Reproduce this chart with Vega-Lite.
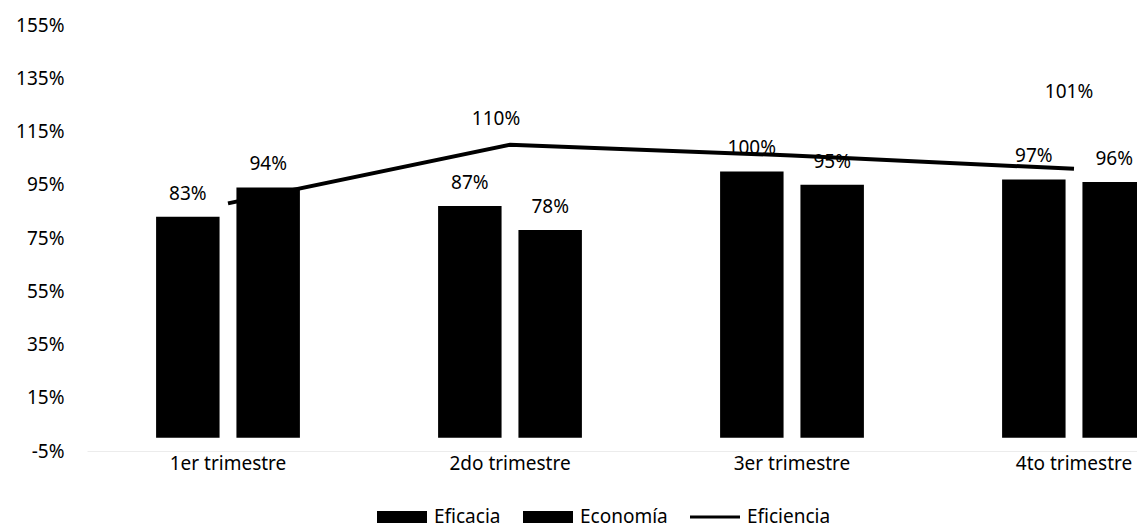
{
  "$schema": "https://vega.github.io/schema/vega-lite/v6.json",
  "autosize": {"type": "none"},
  "padding": {"left": 87, "top": 25, "right": 0, "bottom": 79},
  "width": 1128,
  "height": 426,
  "background": "white",
  "config": {
    "view": {"stroke": null},
    "font": "Noto Sans",
    "text": {"font": "Noto Sans"}
  },
  "datasets": {
    "barras": [
      {"Trimestre": "1er trimestre", "Serie": "Eficacia", "Valor": 0.83},
      {"Trimestre": "1er trimestre", "Serie": "Economía", "Valor": 0.94},
      {"Trimestre": "2do trimestre", "Serie": "Eficacia", "Valor": 0.87},
      {"Trimestre": "2do trimestre", "Serie": "Economía", "Valor": 0.78},
      {"Trimestre": "3er trimestre", "Serie": "Eficacia", "Valor": 1.00},
      {"Trimestre": "3er trimestre", "Serie": "Economía", "Valor": 0.95},
      {"Trimestre": "4to trimestre", "Serie": "Eficacia", "Valor": 0.97},
      {"Trimestre": "4to trimestre", "Serie": "Economía", "Valor": 0.96}
    ],
    "linea": [
      {"Trimestre": "1er trimestre", "Serie": "Eficiencia", "Valor": 0.88},
      {"Trimestre": "2do trimestre", "Serie": "Eficiencia", "Valor": 1.10},
      {"Trimestre": "3er trimestre", "Serie": "Eficiencia", "Valor": 1.06},
      {"Trimestre": "4to trimestre", "Serie": "Eficiencia", "Valor": 1.01}
    ]
  },
  "encoding": {
    "x": {
      "field": "Trimestre",
      "type": "nominal",
      "sort": ["1er trimestre", "2do trimestre", "3er trimestre", "4to trimestre"],
      "scale": {"paddingInner": 0.49, "paddingOuter": 0.245},
      "axis": {
        "title": null,
        "labelAngle": 0,
        "ticks": false,
        "domain": true,
        "domainColor": "#ececec",
        "labelFont": "Noto Sans",
        "labelFontSize": 19,
        "labelColor": "#000000",
        "labelPadding": 3
      }
    },
    "y": {
      "field": "Valor",
      "type": "quantitative",
      "scale": {"domain": [-0.05, 1.55], "nice": false, "zero": false},
      "axis": {
        "title": null,
        "values": [-0.05, 0.15, 0.35, 0.55, 0.75, 0.95, 1.15, 1.35, 1.55],
        "format": ".0%",
        "labelExpr": "replace(datum.label, '\u2212', '-')",
        "grid": false,
        "domain": false,
        "ticks": false,
        "labelFont": "Noto Sans",
        "labelFontSize": 19,
        "labelColor": "#000000",
        "labelPadding": 23
      }
    }
  },
  "layer": [
    {
      "data": {"name": "barras"},
      "mark": {"type": "bar", "color": "#000000"},
      "encoding": {
        "xOffset": {
          "field": "Serie",
          "sort": ["Eficacia", "Economía"],
          "scale": {"paddingInner": 0.21, "paddingOuter": 0}
        },
        "y2": {"datum": 0},
        "color": {
          "field": "Serie",
          "type": "nominal",
          "scale": {
            "domain": ["Eficacia", "Economía", "Eficiencia"],
            "range": ["#000000", "#000000", "#000000"]
          },
          "legend": {
            "title": null,
            "orient": "none",
            "direction": "horizontal",
            "legendX": 290,
            "legendY": 467,
            "symbolSize": 2500,
            "symbolStrokeWidth": 0,
            "labelFont": "Noto Sans",
            "labelFontSize": 19,
            "labelColor": "#000000",
            "labelOffset": 7,
            "columnPadding": 22,
            "encode": {
              "symbols": {
                "update": {
                  "shape": {"signal": "datum.value === 'Eficiencia' ? 'M-1,-0.06H1V0.06H-1Z' : 'M-1,-0.24H1V0.24H-1Z'"},
                  "fill": {"value": "#000000"},
                  "fillOpacity": {"value": 1}
                }
              }
            }
          }
        }
      }
    },
    {
      "data": {"name": "barras"},
      "mark": {"type": "text", "baseline": "alphabetic", "dy": -17, "fontSize": 19, "color": "#000000"},
      "encoding": {
        "xOffset": {
          "field": "Serie",
          "sort": ["Eficacia", "Economía"],
          "scale": {"paddingInner": 0.21, "paddingOuter": 0}
        },
        "text": {"field": "Valor", "format": ".0%"}
      }
    },
    {
      "data": {"name": "linea"},
      "mark": {"type": "line", "strokeWidth": 4, "color": "#000000"},
      "encoding": {
        "color": {"field": "Serie", "type": "nominal"}
      }
    },
    {
      "data": {"name": "linea"},
      "transform": [{"filter": "datum.Trimestre === '2do trimestre'"}],
      "mark": {"type": "text", "baseline": "alphabetic", "dy": -20, "dx": -14, "fontSize": 19, "color": "#000000"},
      "encoding": {
        "text": {"field": "Valor", "format": ".0%"}
      }
    },
    {
      "data": {"name": "linea"},
      "transform": [{"filter": "datum.Trimestre === '4to trimestre'"}],
      "mark": {"type": "text", "baseline": "alphabetic", "dy": -71, "dx": -5, "fontSize": 19, "color": "#000000"},
      "encoding": {
        "text": {"field": "Valor", "format": ".0%"}
      }
    }
  ]
}
